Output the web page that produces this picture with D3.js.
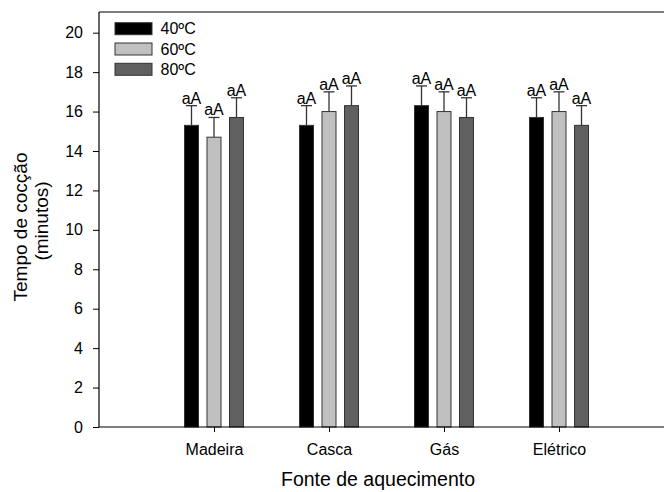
<!DOCTYPE html>
<html>
<head>
<meta charset="utf-8">
<script src="https://cdn.jsdelivr.net/npm/d3@7"></script>
<style>
  html, body { margin: 0; padding: 0; background: #fff; }
  svg { display: block; font-family: Arial, "Liberation Sans", sans-serif; }
</style>
</head>
<body>
<svg id="chart" width="664" height="492"></svg>
<script>
const categories = ["Madeira", "Casca", "Gás", "Elétrico"];
const series = ["40ºC", "60ºC", "80ºC"];
const values40 = [15.3, 15.3, 16.3, 15.7];
const values60 = [14.7, 16.0, 16.0, 16.0];
const values80 = [15.7, 16.3, 15.7, 15.3];
const errors40 = [1.0, 1.0, 1.0, 1.0];
const errors60 = [1.0, 1.0, 1.0, 1.0];
const errors80 = [1.0, 1.0, 1.0, 1.0];
const labels40 = ["aA", "aA", "aA", "aA"];
const labels60 = ["aA", "aA", "aA", "aA"];
const labels80 = ["aA", "aA", "aA", "aA"];
const yTicks = [0, 2, 4, 6, 8, 10, 12, 14, 16, 18, 20];
const xTitle = "Fonte de aquecimento";
const yTitle1 = "Tempo de cocção";
const yTitle2 = "(minutos)";

const seriesValues = [values40, values60, values80];
const seriesErrors = [errors40, errors60, errors80];
const seriesLabels = [labels40, labels60, labels80];
const colors = ["#000000", "#c0c0c0", "#606060"];

const svg = d3.select("#chart");
const mLeft = 99, mBottom = 427, mTop = 12, mRight = 674;

const x = d3.scaleLinear().domain([0, categories.length + 1]).range([mLeft, mRight]);
const y = d3.scaleLinear().domain([0, 20]).range([mBottom, 32.7]);
const yTopVal = y.invert(mTop);
const sub = d3.scalePoint().domain(series).range([-22.5, 22.5]);
const barW = 14;

svg.append("line").attr("x1", mLeft).attr("x2", mRight).attr("y1", y(yTopVal)).attr("y2", y(yTopVal))
  .attr("stroke", "#000").attr("stroke-width", 1.2);

const rows = [];
series.forEach((s, si) => {
  categories.forEach((c, ci) => {
    rows.push({ s, si, ci, v: seriesValues[si][ci], e: seriesErrors[si][ci], lab: seriesLabels[si][ci] });
  });
});

const g = svg.append("g");
g.selectAll("line.err").data(rows).join("line")
  .attr("class", "err")
  .attr("x1", d => x(d.ci + 1) + sub(d.s)).attr("x2", d => x(d.ci + 1) + sub(d.s))
  .attr("y1", d => y(d.v)).attr("y2", d => y(d.v + d.e))
  .attr("stroke", "#333").attr("stroke-width", 1.3);
g.selectAll("line.cap").data(rows).join("line")
  .attr("class", "cap")
  .attr("x1", d => x(d.ci + 1) + sub(d.s) - 5.5).attr("x2", d => x(d.ci + 1) + sub(d.s) + 5.5)
  .attr("y1", d => y(d.v + d.e)).attr("y2", d => y(d.v + d.e))
  .attr("stroke", "#333").attr("stroke-width", 1.3);
g.selectAll("rect.bar").data(rows).join("rect")
  .attr("class", "bar")
  .attr("x", d => x(d.ci + 1) + sub(d.s) - barW / 2)
  .attr("width", barW)
  .attr("y", d => y(d.v))
  .attr("height", d => y(0) - y(d.v))
  .attr("fill", d => colors[d.si])
  .attr("stroke", "#333").attr("stroke-width", 1);
g.selectAll("text.lab").data(rows).join("text")
  .attr("class", "lab")
  .attr("x", d => x(d.ci + 1) + sub(d.s))
  .attr("y", d => y(d.v + d.e) - 2)
  .attr("text-anchor", "middle")
  .attr("font-size", 16)
  .attr("fill", "#000")
  .text(d => d.lab);

const yAxis = d3.axisLeft(y).tickValues(yTicks).tickSize(6).tickPadding(10).tickSizeOuter(0);
const ya = svg.append("g").attr("transform", `translate(${mLeft},0)`).call(yAxis);
ya.select(".domain").remove();
ya.selectAll("text").attr("font-size", 16).attr("font-family", "Arial, 'Liberation Sans', sans-serif").attr("fill", "#000");
ya.selectAll("line").attr("stroke", "#000");
svg.append("line").attr("x1", mLeft).attr("x2", mLeft).attr("y1", y(yTopVal)).attr("y2", mBottom)
  .attr("stroke", "#000").attr("stroke-width", 1.2);

const xAxis = d3.axisBottom(x).tickValues(categories.map((c, i) => i + 1))
  .tickFormat((d, i) => categories[i]).tickSize(5).tickPadding(12).tickSizeOuter(0);
const xa = svg.append("g").attr("transform", `translate(0,${mBottom})`).call(xAxis);
xa.select(".domain").remove();
xa.selectAll("text").attr("font-size", 16).attr("font-family", "Arial, 'Liberation Sans', sans-serif").attr("fill", "#000");
xa.selectAll("line").attr("stroke", "#000");
svg.append("line").attr("x1", mLeft).attr("x2", mRight).attr("y1", mBottom).attr("y2", mBottom)
  .attr("stroke", "#000").attr("stroke-width", 1.2);

svg.append("text").attr("x", 378).attr("y", 486).attr("text-anchor", "middle")
  .attr("font-size", 19.5).attr("fill", "#000").text(xTitle);
svg.append("text").attr("transform", "translate(27,227) rotate(-90)").attr("text-anchor", "middle")
  .attr("font-size", 19).attr("fill", "#000").text(yTitle1);
svg.append("text").attr("transform", "translate(48,221) rotate(-90)").attr("text-anchor", "middle")
  .attr("font-size", 19).attr("fill", "#000").text(yTitle2);

const lg = svg.append("g");
series.forEach((s, i) => {
  const yy = 22.7 + i * 20.3;
  lg.append("rect").attr("x", 115).attr("y", yy).attr("width", 37).attr("height", 12)
    .attr("fill", colors[i]).attr("stroke", "#333").attr("stroke-width", 1);
  lg.append("text").attr("x", 160.5).attr("y", yy + 11.5).attr("font-size", 16).attr("fill", "#000").text(s);
});
</script>
</body>
</html>
